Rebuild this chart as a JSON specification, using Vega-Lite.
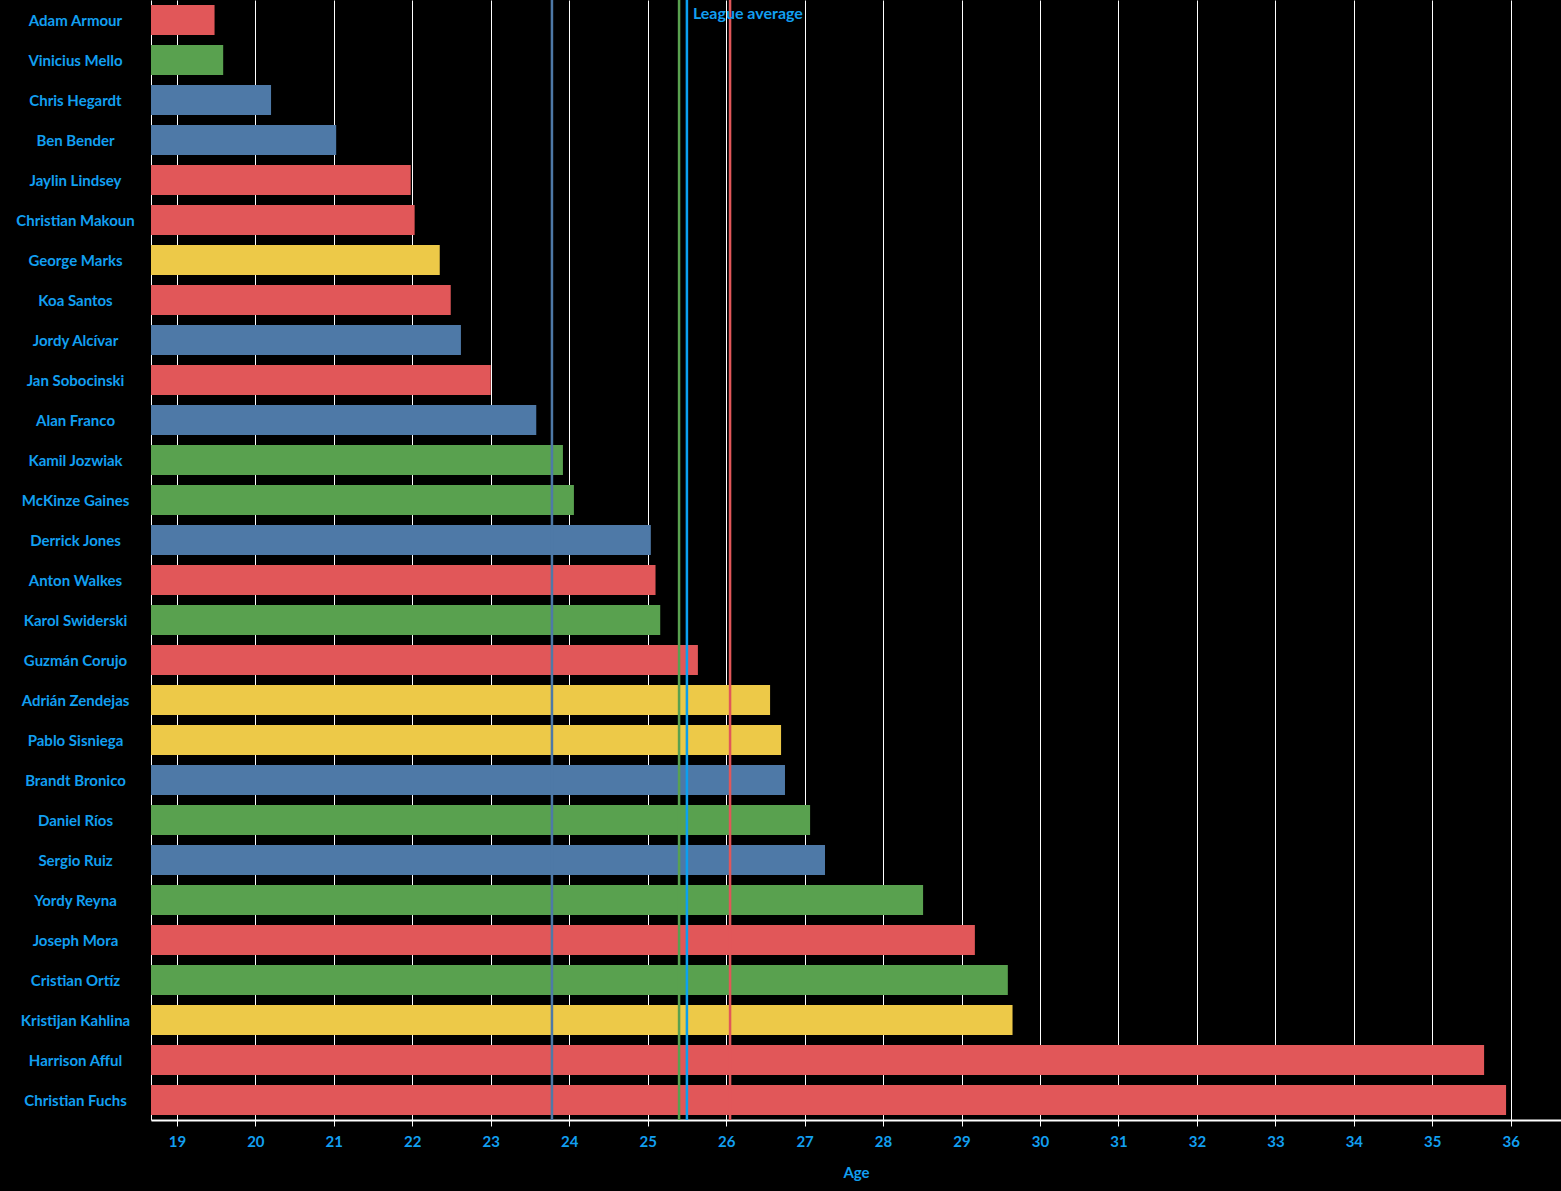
{
  "$schema": "https://vega.github.io/schema/vega-lite/v6.json",
  "background": "#000000",
  "autosize": {"type": "none"},
  "padding": {"left": 151, "top": 0, "right": 0, "bottom": 71},
  "width": 1410,
  "height": 1120,
  "datasets": {
    "players": [
      {"player": "Adam Armour", "position": "Defender", "age": 19.48},
      {"player": "Vinicius Mello", "position": "Forward", "age": 19.59},
      {"player": "Chris Hegardt", "position": "Midfielder", "age": 20.20},
      {"player": "Ben Bender", "position": "Midfielder", "age": 21.03},
      {"player": "Jaylin Lindsey", "position": "Defender", "age": 21.98},
      {"player": "Christian Makoun", "position": "Defender", "age": 22.03},
      {"player": "George Marks", "position": "Goalkeeper", "age": 22.35},
      {"player": "Koa Santos", "position": "Defender", "age": 22.49},
      {"player": "Jordy Alcívar", "position": "Midfielder", "age": 22.62},
      {"player": "Jan Sobocinski", "position": "Defender", "age": 23.00},
      {"player": "Alan Franco", "position": "Midfielder", "age": 23.58},
      {"player": "Kamil Jozwiak", "position": "Forward", "age": 23.92},
      {"player": "McKinze Gaines", "position": "Forward", "age": 24.06},
      {"player": "Derrick Jones", "position": "Midfielder", "age": 25.04},
      {"player": "Anton Walkes", "position": "Defender", "age": 25.10},
      {"player": "Karol Swiderski", "position": "Forward", "age": 25.16},
      {"player": "Guzmán Corujo", "position": "Defender", "age": 25.64},
      {"player": "Adrián Zendejas", "position": "Goalkeeper", "age": 26.56},
      {"player": "Pablo Sisniega", "position": "Goalkeeper", "age": 26.70},
      {"player": "Brandt Bronico", "position": "Midfielder", "age": 26.75},
      {"player": "Daniel Ríos", "position": "Forward", "age": 27.07},
      {"player": "Sergio Ruiz", "position": "Midfielder", "age": 27.26},
      {"player": "Yordy Reyna", "position": "Forward", "age": 28.51},
      {"player": "Joseph Mora", "position": "Defender", "age": 29.17},
      {"player": "Cristian Ortíz", "position": "Forward", "age": 29.59},
      {"player": "Kristijan Kahlina", "position": "Goalkeeper", "age": 29.65},
      {"player": "Harrison Afful", "position": "Defender", "age": 35.66},
      {"player": "Christian Fuchs", "position": "Defender", "age": 35.94}
    ],
    "averages": [
      {"group": "Midfielder", "avg": 23.78},
      {"group": "Forward", "avg": 25.40},
      {"group": "Defender", "avg": 26.05},
      {"group": "League", "avg": 25.50, "label": "League average"}
    ]
  },
  "layer": [
    {
      "data": {"name": "players"},
      "mark": {"type": "bar"},
      "encoding": {
        "y": {
          "field": "player", "type": "nominal",
          "sort": ["Adam Armour", "Vinicius Mello", "Chris Hegardt", "Ben Bender", "Jaylin Lindsey", "Christian Makoun", "George Marks", "Koa Santos", "Jordy Alcívar", "Jan Sobocinski", "Alan Franco", "Kamil Jozwiak", "McKinze Gaines", "Derrick Jones", "Anton Walkes", "Karol Swiderski", "Guzmán Corujo", "Adrián Zendejas", "Pablo Sisniega", "Brandt Bronico", "Daniel Ríos", "Sergio Ruiz", "Yordy Reyna", "Joseph Mora", "Cristian Ortíz", "Kristijan Kahlina", "Harrison Afful", "Christian Fuchs"],
          "scale": {"paddingInner": 0.25, "paddingOuter": 0.125},
          "axis": {
            "title": null, "ticks": false, "labelAlign": "center", "labelPadding": 76, "labelOffset": 1,
            "labelColor": "#129ff0", "labelFont": "Lato", "labelFontWeight": "bold", "labelFontSize": 15,
            "domain": true, "domainColor": "#ffffff", "domainWidth": 1, "grid": false, "labelLimit": 200
          }
        },
        "x": {
          "field": "age", "type": "quantitative",
          "scale": {"domain": [18.67, 36.64], "nice": false, "zero": false, "clamp": true},
          "axis": {
            "title": "Age", "titleColor": "#129ff0", "titleFont": "Lato", "titleFontWeight": "bold", "titleFontSize": 15, "titlePadding": 16,
            "values": [19,20,21,22,23,24,25,26,27,28,29,30,31,32,33,34,35,36], "format": "d",
            "labelColor": "#129ff0", "labelFont": "Lato", "labelFontWeight": "bold", "labelFontSize": 15, "labelPadding": 8,
            "tickColor": "#ffffff", "tickSize": 6, "tickWidth": 1,
            "domainColor": "#ffffff", "domainWidth": 2,
            "grid": true, "gridColor": "#ffffff", "gridWidth": 1, "gridOpacity": 1
          }
        },
        "color": {
          "field": "position", "type": "nominal",
          "scale": {"domain": ["Defender", "Forward", "Midfielder", "Goalkeeper", "League"], "range": ["#e15759", "#59a14f", "#4e79a7", "#edc948", "#0ba0f0"]},
          "legend": null
        }
      }
    },
    {
      "data": {"name": "averages"},
      "mark": {"type": "rule", "strokeWidth": 2.5},
      "encoding": {
        "x": {"field": "avg", "type": "quantitative"},
        "color": {"field": "group", "type": "nominal", "legend": null}
      }
    },
    {
      "data": {"name": "averages"},
      "transform": [{"filter": "datum.label != null"}],
      "mark": {"type": "text", "align": "left", "baseline": "middle", "dx": 6, "dy": -6, "font": "Lato", "fontWeight": "bold", "fontSize": 16, "color": "#129ff0"},
      "encoding": {
        "x": {"field": "avg", "type": "quantitative"},
        "y": {"datum": "Adam Armour"},
        "text": {"field": "label"}
      }
    }
  ],
  "config": {"view": {"stroke": null}}
}
